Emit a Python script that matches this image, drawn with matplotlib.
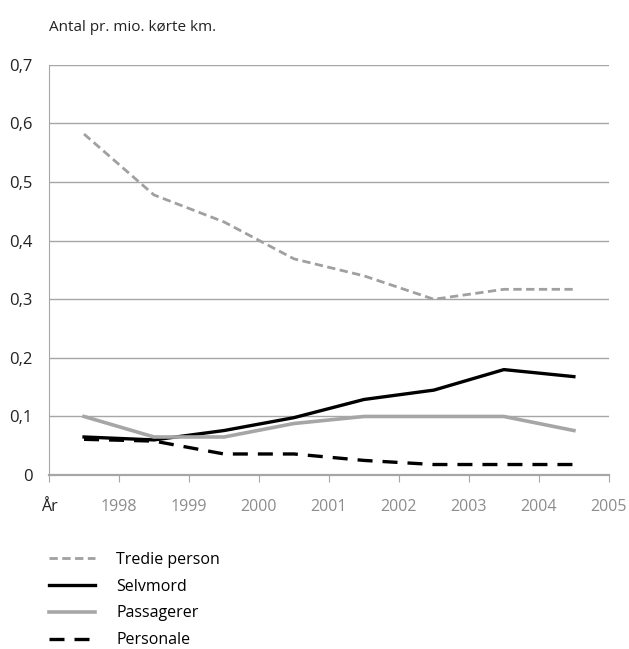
import matplotlib.pyplot as plt

plt.rcParams['font.family'] = ['Open Sans', 'DejaVu Sans']

# x axis categories: "År" at the origin, years at the following ticks
tick_labels = ['År', '1998', '1999', '2000', '2001', '2002', '2003', '2004', '2005']
# data sits between the year ticks
x_pos = [0.5, 1.5, 2.5, 3.5, 4.5, 5.5, 6.5, 7.5]

tredie_person = [0.582, 0.478, 0.432, 0.369, 0.34, 0.30, 0.317, 0.317]
selvmord = [0.065, 0.06, 0.076, 0.098, 0.129, 0.145, 0.18, 0.168]
passagerer = [0.1, 0.065, 0.065, 0.088, 0.1, 0.1, 0.1, 0.076]
personale = [0.061, 0.058, 0.036, 0.036, 0.025, 0.018, 0.018, 0.018]

y_ticks = [0, 0.1, 0.2, 0.3, 0.4, 0.5, 0.6, 0.7]
y_labels = ['0', '0,1', '0,2', '0,3', '0,4', '0,5', '0,6', '0,7']

grey = '#a6a6a6'
fig = plt.figure(figsize=(6.29, 6.49), dpi=100)
ax = fig.add_axes([0.078, 0.268, 0.890, 0.632])

ax.plot(x_pos, tredie_person, color='#a0a0a0', lw=2, dashes=(3, 1.6), label='Tredie person')
ax.plot(x_pos, selvmord, color='black', lw=2.4, label='Selvmord')
ax.plot(x_pos, passagerer, color=grey, lw=2.6, label='Passagerer')
ax.plot(x_pos, personale, color='black', lw=2.4, dashes=(4.5, 3), label='Personale')

ax.set_xlim(0, 8)
ax.set_ylim(0, 0.7)
ax.set_yticks(y_ticks)
ax.set_yticklabels(y_labels, fontsize=12, color='#222222')
ax.set_xticks(range(len(tick_labels)))
ax.set_xticklabels(tick_labels, fontsize=11.5)
for i, t in enumerate(ax.get_xticklabels()):
    t.set_color('#222222' if i == 0 else '#8c8c8c')

ax.grid(axis='y', color=grey, lw=1)
ax.set_axisbelow(True)
for s in ['top', 'right']:
    ax.spines[s].set_visible(False)
ax.spines['left'].set_color(grey)
ax.spines['bottom'].set_color(grey)
ax.spines['bottom'].set_linewidth(1.6)
ax.tick_params(axis='y', length=0, pad=12)
ax.tick_params(axis='x', length=5, color=grey, pad=12)

fig.text(0.078, 0.958, 'Antal pr. mio. kørte km.', fontsize=11, color='#222222', va='center')

ax.legend(loc='upper left', bbox_to_anchor=(0.078, 0.15), bbox_transform=fig.transFigure,
          frameon=False, fontsize=11.5, handlelength=2.9, handletextpad=1.3,
          labelspacing=0.68, borderaxespad=0, borderpad=0)

fig.savefig('out.png', dpi=100)
